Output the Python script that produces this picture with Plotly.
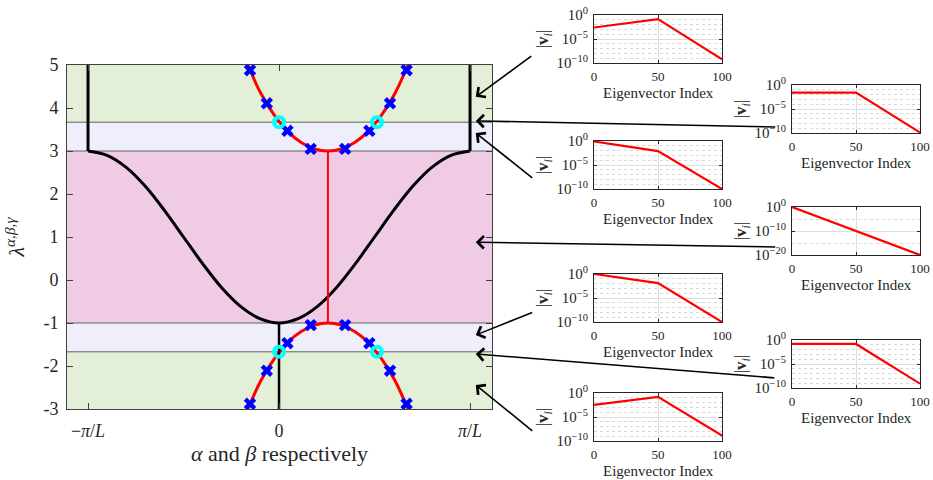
import plotly.graph_objects as go

# ---------------- band diagram data ----------------
# real branch (alpha), x in units of pi/L
alpha_x = [-1.0, -0.9, -0.8, -0.7, -0.6, -0.5, -0.4, -0.3, -0.2, -0.1, 0.0,
           0.1, 0.2, 0.3, 0.4, 0.5, 0.6, 0.7, 0.8, 0.9, 1.0]
alpha_lam = [3.0, 2.90, 2.62, 2.18, 1.62, 1.0, 0.38, -0.18, -0.62, -0.90, -1.0,
             -0.90, -0.62, -0.18, 0.38, 1.0, 1.62, 2.18, 2.62, 2.90, 3.0]

# vertical black segments at the zone edges and at zero
edge_left_x = [-1.0, -1.0]
edge_left_lam = [3.0, 5.0]
edge_right_x = [1.0, 1.0]
edge_right_lam = [3.0, 5.0]
zero_x = [0.0, 0.0]
zero_lam = [-1.0, -3.0]

# imaginary branches (beta)
beta_x = [-0.163, -0.094, -0.024, 0.046, 0.116, 0.186, 0.256,
          0.326, 0.396, 0.466, 0.536, 0.606, 0.675]
beta_upper = [5.0, 4.33, 3.83, 3.45, 3.20, 3.05, 3.0,
              3.05, 3.20, 3.45, 3.83, 4.33, 5.0]
beta_lower = [-3.0, -2.33, -1.83, -1.45, -1.20, -1.05, -1.0,
              -1.05, -1.20, -1.45, -1.83, -2.33, -3.0]
gamma_x = [0.256, 0.256]
gamma_lam = [-1.0, 3.0]

# sampled points
cross_x = [-0.152, -0.064, 0.044, 0.166, 0.346, 0.473, 0.581, 0.668]
cross_upper = [4.88, 4.11, 3.47, 3.05, 3.05, 3.47, 4.11, 4.88]
cross_lower = [-2.88, -2.11, -1.47, -1.05, -1.05, -1.47, -2.11, -2.88]
circle_x = [0.0, 0.513, 0.0, 0.513]
circle_lam = [3.67, 3.67, -1.67, -1.67]

# band edges
band_edges = [3.67, 3.0, -1.0, -1.67]
lam_min, lam_max = -3.0, 5.0

x_tickvals = [-1, 0, 1]
x_ticktext = ["\u2212<i>\u03c0</i>/<i>L</i>", "0", "<i>\u03c0</i>/<i>L</i>"]
y_tickvals = [-3, -2, -1, 0, 1, 2, 3, 4, 5]
y_ticktext = ["-3", "-2", "-1", "0", "1", "2", "3", "4", "5"]

# ---------------- eigenvector decay insets ----------------
eig_index = [0, 50, 100]
eig_profiles = [
    [2.5e-3, 0.14, 6e-10],
    [2.5e-2, 2.5e-2, 1.3e-10],
    [0.8, 8e-3, 1e-10],
    [1.0, 1e-10, 1e-20],
    [1.0, 1.3e-2, 1e-10],
    [0.15, 0.15, 8e-10],
    [3.5e-3, 0.16, 1.3e-9],
]
# arrow targets on the lambda axis for each inset
arrow_lam = [4.26, 3.70, 3.42, 0.88, -1.28, -1.72, -2.44]

W, H = 933, 480
FONT = "Liberation Serif, DejaVu Serif, serif"
TXT = "#262626"


def fnt(size):
    return dict(family=FONT, size=size, color=TXT)


def dom_x(x0, x1):
    return [x0 / W, x1 / W]


def dom_y(top, bottom):
    return [1 - bottom / H, 1 - top / H]


fig = go.Figure()

black = dict(color="black", width=3)
fig.add_trace(go.Scatter(x=alpha_x, y=alpha_lam, mode="lines",
                         line=dict(color="black", width=3, shape="spline", smoothing=1.0)))
for xs, ys in [(edge_left_x, edge_left_lam), (edge_right_x, edge_right_lam)]:
    fig.add_trace(go.Scatter(x=xs, y=ys, mode="lines", line=black))
fig.add_trace(go.Scatter(x=gamma_x, y=gamma_lam, mode="lines", line=dict(color="red", width=2)))
for ys in (beta_upper, beta_lower):
    fig.add_trace(go.Scatter(x=beta_x, y=ys, mode="lines",
                             line=dict(color="red", width=3, shape="spline", smoothing=1.0)))
fig.add_trace(go.Scatter(x=zero_x, y=zero_lam, mode="lines", line=dict(color="black", width=2.5)))
for ys in (cross_upper, cross_lower):
    fig.add_trace(go.Scatter(x=cross_x, y=ys, mode="markers",
                             marker=dict(symbol="x", size=11, color="blue",
                                         line=dict(width=0))))
fig.add_trace(go.Scatter(x=circle_x, y=circle_lam, mode="markers",
                         marker=dict(symbol="circle-open", size=10, color="cyan",
                                     line=dict(width=4, color="cyan"))))

# background bands
band_fill = [
    (band_edges[0], lam_max, "#E3EFD6"),
    (band_edges[1], band_edges[0], "#EFEFFB"),
    (band_edges[2], band_edges[1], "#EFCBE5"),
    (band_edges[3], band_edges[2], "#EFEFFB"),
    (lam_min, band_edges[3], "#E3EFD6"),
]
shapes = []
for y0, y1, col in band_fill:
    shapes.append(dict(type="rect", xref="x domain", yref="y", x0=0, x1=1, y0=y0, y1=y1,
                       fillcolor=col, line=dict(width=0), layer="below"))
for yb in band_edges:
    shapes.append(dict(type="line", xref="x domain", yref="y", x0=0, x1=1, y0=yb, y1=yb,
                       line=dict(color="#606060", width=1), layer="below"))

layout = dict(
    template="none",
    width=W, height=H, margin=dict(l=0, r=0, t=0, b=0, pad=0, autoexpand=False),
    paper_bgcolor="white", plot_bgcolor="white", showlegend=False,
    font=fnt(14),
    shapes=shapes,
    xaxis=dict(domain=dom_x(67, 492), range=[-1.11, 1.115], tickvals=x_tickvals,
               ticktext=x_ticktext, ticks="inside", ticklen=6, tickcolor="#404040",
               showline=True, linecolor="#404040", linewidth=1, mirror="ticks",
               showgrid=False, zeroline=False, tickfont=fnt(18), automargin=False,
               ticklabelstandoff=5,
               title=dict(text="<i>\u03b1</i> and <i>\u03b2</i> respectively",
                          font=fnt(22), standoff=6)),
    yaxis=dict(domain=dom_y(65, 409), range=[lam_min, lam_max], tickvals=y_tickvals,
               ticktext=y_ticktext, ticks="inside", ticklen=6, tickcolor="#404040",
               showline=True, linecolor="#404040", linewidth=1, mirror="ticks",
               showgrid=False, zeroline=False, tickfont=fnt(18), automargin=False,
               ticklabelstandoff=4,
               title=dict(text="<i>\u03bb</i><sup><i>\u03b1</i>,<i>\u03b2</i>,<i>\u03b3</i></sup>",
                          font=fnt(22), standoff=12)),
)

inset_boxes = [(594, 15), (792, 85), (594, 141), (792, 207), (594, 274), (792, 340), (594, 393)]
iw, ih = 128, 48
annotations = []
for k, (prof, (lx, ty)) in enumerate(zip(eig_profiles, inset_boxes)):
    n = k + 2
    xa, ya = f"xaxis{n}", f"yaxis{n}"
    fig.add_trace(go.Scatter(x=eig_index, y=prof, mode="lines",
                             line=dict(color="red", width=2.2),
                             xaxis=f"x{n}", yaxis=f"y{n}"))
    deep = min(prof) < 1e-15
    if deep:
        yr, major, minor = [-20, 0], [1e-20, 1e-10, 1], [1e-15, 1e-5]
        mtext = ["10<sup>\u221220</sup>", "10<sup>\u221210</sup>", "10<sup>0</sup>"]
    else:
        yr, major = [-10, 0], [1e-10, 1e-5, 1]
        minor = [10.0 ** (-e) for e in range(1, 10) if e != 5]
        mtext = ["10<sup>\u221210</sup>", "10<sup>\u22125</sup>", "10<sup>0</sup>"]
    layout[xa] = dict(domain=dom_x(lx, lx + iw), anchor=f"y{n}", range=[0, 100],
                      tickvals=[0, 50, 100], ticks="inside", ticklen=3, tickcolor="#262626",
                      showline=True, linecolor="#262626", linewidth=1, mirror="ticks",
                      showgrid=True, gridcolor="#dddddd", gridwidth=1, zeroline=False,
                      tickfont=fnt(13), ticklabelstandoff=1, automargin=False)
    layout[ya] = dict(domain=dom_y(ty, ty + ih), anchor=f"x{n}", type="log", range=yr,
                      tickvals=major, ticktext=mtext, ticks="inside", ticklen=3,
                      tickcolor="#262626", showline=True, linecolor="#262626", linewidth=1,
                      mirror="ticks", showgrid=True, gridcolor="#dddddd", gridwidth=1,
                      zeroline=False, tickfont=fnt(15), ticklabelstandoff=2, automargin=False,
                      minor=dict(tickvals=minor, showgrid=True, gridcolor="#d8d8d8",
                                 griddash="dot", gridwidth=1, ticks=""),
                      title=dict(text="|<b>v</b><sub><i>i</i></sub>|",
                                 font=fnt(17), standoff=3))
    # x-axis caption placed as a paper annotation beneath each inset
    annotations.append(dict(text="Eigenvector Index", xref="paper", yref="paper",
                            x=(lx + iw / 2) / W, y=1 - (ty + ih + 30) / H,
                            xanchor="center", yanchor="middle", showarrow=False,
                            font=fnt(15)))

# arrows from each inset to the corresponding lambda
arrow_tails = [(535, 55), (779, 127), (536, 179), (779, 247), (536, 312), (778, 378), (536, 432)]
for lam, (tx, tyy) in zip(arrow_lam, arrow_tails):
    hx = 478
    hy = 65 + (lam_max - lam) / (lam_max - lam_min) * (409 - 65)
    annotations.append(dict(x=1.03, y=lam, xref="x", yref="y", ax=tx - hx, ay=tyy - hy,
                            axref="pixel", ayref="pixel", showarrow=True, arrowhead=4,
                            arrowsize=1.5, arrowwidth=1.6, arrowcolor="black", text=""))
layout["annotations"] = annotations

fig.update_layout(**layout)
fig.write_html("out.html")
